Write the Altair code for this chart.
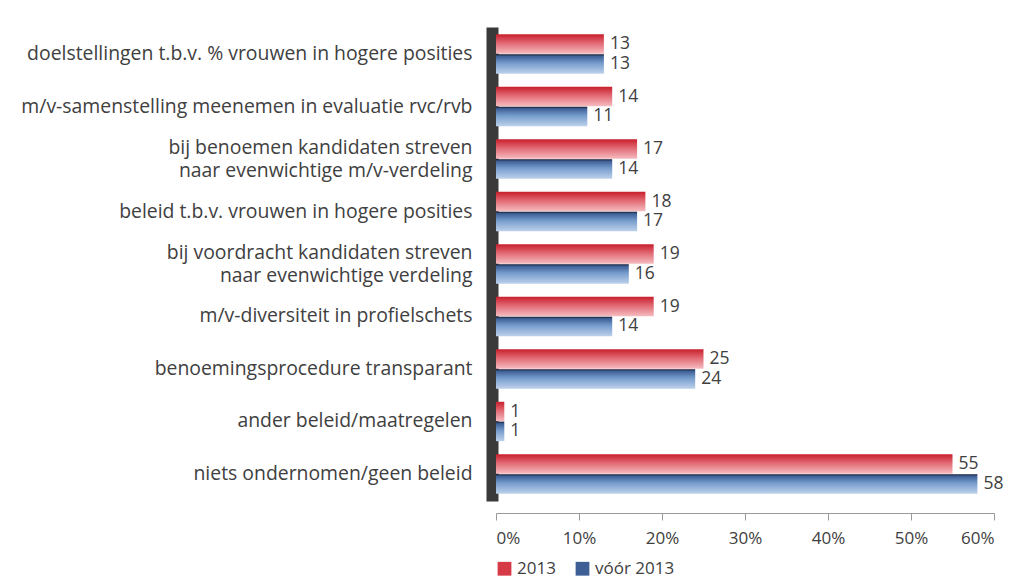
import altair as alt
import pandas as pd

categories = [
    "doelstellingen t.b.v. % vrouwen in hogere posities",
    "m/v-samenstelling meenemen in evaluatie rvc/rvb",
    "bij benoemen kandidaten streven|naar evenwichtige m/v-verdeling",
    "beleid t.b.v. vrouwen in hogere posities",
    "bij voordracht kandidaten streven|naar evenwichtige verdeling",
    "m/v-diversiteit in profielschets",
    "benoemingsprocedure transparant",
    "ander beleid/maatregelen",
    "niets ondernomen/geen beleid",
]
series_names = ["2013", "vóór 2013"]
values_2013 = [13, 14, 17, 18, 19, 19, 25, 1, 55]
values_voor_2013 = [13, 11, 14, 17, 16, 14, 24, 1, 58]
x_ticks = [0, 10, 20, 30, 40, 50, 60]

rows = []
for c, a, b in zip(categories, values_2013, values_voor_2013):
    rows.append({"cat": c, "series": series_names[0], "value": a})
    rows.append({"cat": c, "series": series_names[1], "value": b})
df = pd.DataFrame(rows)

FONT = "Open Sans"
TXT = "#404040"

red_grad = {
    "gradient": "linear", "x1": 0, "y1": 0, "x2": 0, "y2": 1,
    "stops": [
        {"offset": 0, "color": "#c81f2d"},
        {"offset": 0.45, "color": "#e26a74"},
        {"offset": 1, "color": "#f5bcc0"},
    ],
}
blue_grad = {
    "gradient": "linear", "x1": 0, "y1": 0, "x2": 0, "y2": 1,
    "stops": [
        {"offset": 0, "color": "#12172b"},
        {"offset": 0.1, "color": "#3d5f95"},
        {"offset": 0.45, "color": "#759bcc"},
        {"offset": 1, "color": "#bdd1eb"},
    ],
}

y_enc = alt.Y(
    "cat:N",
    sort=categories,
    scale=alt.Scale(paddingInner=0.25, paddingOuter=0.14),
    axis=alt.Axis(
        title=None,
        labelExpr="split(datum.label, '|')",
        labelFontSize=19.4,
        labelFont=FONT,
        labelColor=TXT,
        labelLimit=600,
        labelPadding=20,
        labelLineHeight=23,
        labelOffset={"condition": {"test": "indexof(datum.label, '|') >= 0", "value": -11}, "value": 0},
        ticks=False,
        grid=False,
        domainColor="#3a3a3a",
        domainWidth=12,
        offset=4,
    ),
)
yoff = alt.YOffset("series:N", sort=series_names, scale=alt.Scale(paddingInner=0.02))

x_enc = alt.X(
    "value:Q",
    scale=alt.Scale(domain=[0, 60]),
    axis=alt.Axis(
        title=None,
        values=x_ticks,
        labelExpr="datum.value + '%'",
        labelFontSize=17,
        labelFont=FONT,
        labelColor=TXT,
        labelPadding=10,
        grid=False,
        domainColor="#9a9a9a",
        tickColor="#9a9a9a",
        tickSize=7,
        offset=12,
    ),
)

color_enc = alt.Color(
    "series:N",
    sort=series_names,
    scale=alt.Scale(domain=series_names, range=["#d63a46", "#3e5f95"]),
    legend=alt.Legend(
        title=None,
        orient="bottom",
        symbolType="square",
        symbolSize=190,
        labelFontSize=17,
        labelFont=FONT,
        labelColor=TXT,
        labelOffset=4,
        offset=14,
        columnPadding=18,
    ),
    condition=[
        {"test": "datum.series === '2013'", "value": red_grad},
        {"test": "datum.series !== '2013'", "value": blue_grad},
    ],
)

base = alt.Chart(df)

bars = base.mark_bar(strokeWidth=0).encode(
    y=y_enc, yOffset=yoff, x=x_enc, color=color_enc
)

labels = base.mark_text(
    align="left", baseline="middle", dx=6, fontSize=17.5, font=FONT, color=TXT
).encode(
    y=alt.Y("cat:N", sort=categories),
    yOffset=alt.YOffset("series:N", sort=series_names),
    x=alt.X("value:Q"),
    text=alt.Text("value:Q"),
)

chart = (
    alt.layer(bars, labels)
    .properties(
        width=498,
        height=474,
        background="white",
        padding={"left": 12, "top": 19, "right": 0, "bottom": 0},
    )
    .configure_view(stroke=None, strokeWidth=0)
)

chart.save("out.html", embed_options={"renderer": "svg", "actions": False})
